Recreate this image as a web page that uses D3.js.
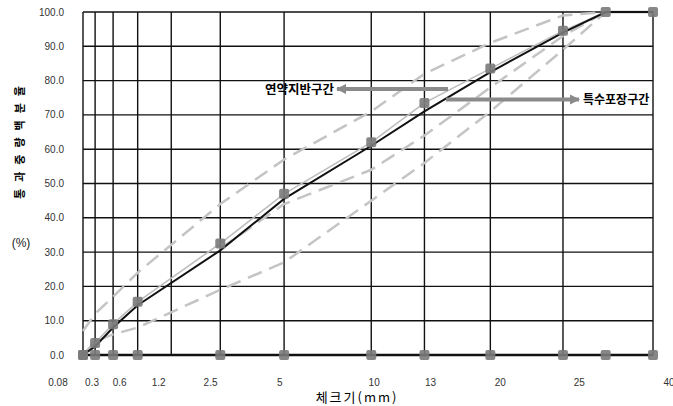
<!DOCTYPE html>
<html>
<head>
<meta charset="utf-8">
<script src="https://cdn.jsdelivr.net/npm/d3@7"></script>
<style>
  body { margin: 0; background: #fff; }
  svg { display: block; font-family: "Liberation Sans", Arial, sans-serif; }
  .kr { font-family: "Noto Sans CJK KR", "Noto Sans", sans-serif; }
</style>
</head>
<body>
<svg width="673" height="406"></svg>
<script>
// sieve openings (mm) where the vertical grid lines sit, read on the 0.45-power axis
var gridSieves = [0.08, 0.15, 0.3, 0.6, 1.2, 2.5, 5, 10, 14, 20, 28, 40];
// axis labels and the axis value each label sits at
var tickLabels = ['0.08', '0.3', '0.6', '1.2', '2.5', '5', '10', '13', '20', '25', '40'];
var tickAt = [0.0066, 0.13, 0.37, 0.95, 2.2, 4.8, 10.2, 14.5, 21, 30, 42.4];
var yTicks = [0, 10, 20, 30, 40, 50, 60, 70, 80, 90, 100];

// measured gradation, same openings for every series
var curveSieves = [0.08, 0.15, 0.3, 0.6, 2.5, 5, 10, 14, 20, 28, 33.4, 40];
var passBlack = [0, 2.5, 8, 14.5, 30.5, 45.5, 61, 71, 82.5, 94, 100, 100];
var passGray = [0, 3.5, 9, 15.5, 32.5, 47, 62, 73.5, 83.5, 94.5, 100, 100];
var passBase = [0, 0, 0, 0, 0, 0, 0, 0, 0, 0, 0, 0];

// specification bands (dashed); null where a line is not drawn
var bandUpper = [7, 12, 17, 24, 44, 57, 71, 82, 91, 99, 100, 100];
var bandLowerA = [0, 4, 6, 8, 19, 27, 45, 56, 71, 89, 100, 100];
var bandLowerB = [null, null, null, null, 31, 44, 54, 64, 78, 93, 100, 100];

var svg = d3.select('svg');
var x = d3.scalePow().exponent(0.45).domain([0.08, 40]).range([83, 653]);
var y = d3.scaleLinear().domain([0, 100]).range([355, 12]);

// grid
var grid = svg.append('g').attr('class', 'grid');
grid.selectAll('line.h')
  .data(yTicks)
  .enter()
  .append('line')
  .attr('class', 'h')
  .attr('x1', x(0.08)).attr('x2', x(40))
  .attr('y1', function(d) { return y(d); })
  .attr('y2', function(d) { return y(d); })
  .attr('stroke', '#111').attr('stroke-width', 1.4);
grid.selectAll('line.v')
  .data(gridSieves)
  .enter()
  .append('line')
  .attr('class', 'v')
  .attr('x1', function(d) { return x(d); })
  .attr('x2', function(d) { return x(d); })
  .attr('y1', y(0)).attr('y2', y(100))
  .attr('stroke', '#111').attr('stroke-width', 1.4);

// y tick labels
svg.append('g').selectAll('text')
  .data(yTicks)
  .enter()
  .append('text')
  .attr('x', 64)
  .attr('y', function(d) { return y(d) + 3.5; })
  .attr('text-anchor', 'end')
  .attr('font-size', 10)
  .attr('fill', '#333')
  .text(function(d) { return d.toFixed(1); });

// x tick labels
svg.append('g').selectAll('text')
  .data(tickLabels)
  .enter()
  .append('text')
  .attr('x', function(d, i) { return x(tickAt[i]); })
  .attr('y', 386)
  .attr('text-anchor', 'middle')
  .attr('font-size', 10)
  .attr('fill', '#333')
  .text(function(d) { return d; });

// bands
var bandLine = d3.line()
  .defined(function(d) { return d !== null; })
  .x(function(d, i) { return x(curveSieves[i]); })
  .y(function(d) { return y(d); });
[bandUpper, bandLowerA, bandLowerB].forEach(function(b) {
  svg.append('path')
    .attr('d', bandLine(b))
    .attr('fill', 'none')
    .attr('stroke', '#c4c4c4')
    .attr('stroke-width', 2.5)
    .attr('stroke-dasharray', '15,8');
});

// curves
var curve = d3.line()
  .x(function(d, i) { return x(curveSieves[i]); })
  .y(function(d) { return y(d); });

svg.append('path')
  .attr('d', curve(passGray))
  .attr('fill', 'none')
  .attr('stroke', '#bdbdbd')
  .attr('stroke-width', 1.6);
svg.append('path')
  .attr('d', curve(passBlack))
  .attr('fill', 'none')
  .attr('stroke', '#111')
  .attr('stroke-width', 2);
svg.append('path')
  .attr('d', curve(passBase))
  .attr('fill', 'none')
  .attr('stroke', '#111')
  .attr('stroke-width', 2.6);

function markers(vals) {
  svg.append('g').selectAll('rect')
    .data(vals)
    .enter()
    .append('rect')
    .attr('x', function(d, i) { return x(curveSieves[i]) - 5; })
    .attr('y', function(d) { return y(d) - 5; })
    .attr('width', 10).attr('height', 10)
    .attr('rx', 2)
    .attr('fill', '#7a7a7a')
    .attr('opacity', 0.9);
}
markers(passGray);
markers(passBase);

// annotations
var defs = svg.append('defs');
defs.append('marker')
  .attr('id', 'head')
  .attr('viewBox', '0 0 10 10')
  .attr('refX', 9).attr('refY', 5)
  .attr('markerWidth', 2.6).attr('markerHeight', 2.6)
  .attr('markerUnits', 'strokeWidth')
  .attr('orient', 'auto')
  .append('path')
  .attr('d', 'M0,0L10,5L0,10Z')
  .attr('fill', '#8a8a8a');

svg.append('line')
  .attr('x1', 448).attr('y1', 89).attr('x2', 337).attr('y2', 89)
  .attr('stroke', '#8a8a8a').attr('stroke-width', 4)
  .attr('marker-end', 'url(#head)');
svg.append('line')
  .attr('x1', 446).attr('y1', 99.5).attr('x2', 579).attr('y2', 99.5)
  .attr('stroke', '#8a8a8a').attr('stroke-width', 4)
  .attr('marker-end', 'url(#head)');

svg.append('text')
  .attr('class', 'kr')
  .attr('x', 334).attr('y', 94)
  .attr('text-anchor', 'end')
  .attr('font-size', 12.5).attr('font-weight', 'bold')
  .text('연약지반구간');
svg.append('text')
  .attr('class', 'kr')
  .attr('x', 583).attr('y', 104)
  .attr('font-size', 12).attr('font-weight', 'bold')
  .text('특수포장구간');

// axis titles
svg.append('text')
  .attr('class', 'kr')
  .attr('x', 357).attr('y', 402)
  .attr('text-anchor', 'middle')
  .attr('font-size', 13)
  .attr('letter-spacing', 2)
  .text('체크기(mm)');
svg.append('text')
  .attr('class', 'kr')
  .attr('transform', 'translate(24,139) rotate(-90)')
  .attr('text-anchor', 'middle')
  .attr('font-size', 11).attr('font-weight', 'bold')
  .attr('letter-spacing', 7)
  .text('통과중량백분율');
svg.append('text')
  .attr('x', 21).attr('y', 247)
  .attr('text-anchor', 'middle')
  .attr('font-size', 12)
  .attr('fill', '#222')
  .text('(%)');
</script>
</body>
</html>
